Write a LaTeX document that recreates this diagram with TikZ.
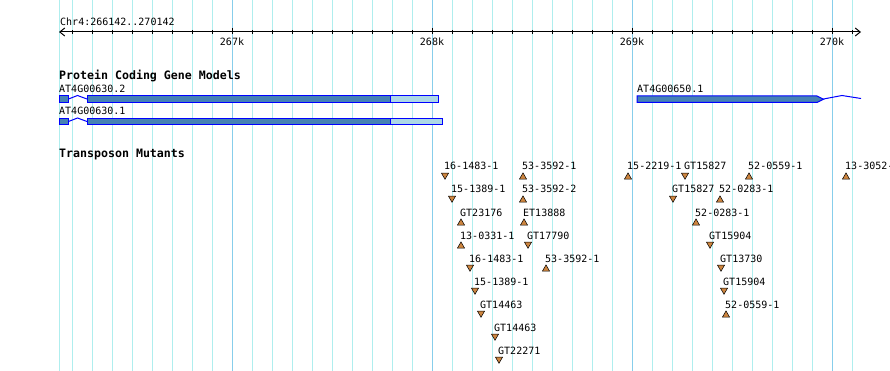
\documentclass[tikz,border=0pt]{standalone}
\usepackage{fontspec}
\setmonofont{DejaVu Sans Mono}
\usetikzlibrary{arrows.meta,shapes.geometric}

\definecolor{gridminor}{RGB}{175,238,238}
\definecolor{gridmajor}{RGB}{135,206,235}
\definecolor{cdsblue}{RGB}{70,130,180}
\definecolor{utrblue}{RGB}{173,216,230}
\definecolor{insfill}{RGB}{205,133,63}

% one insertion: name, x, row, tup/tdn, text
\newcommand{\mutant}[5]{%
  \node[ins,#4] (#1) at (#2+1,#3+11) {};
  \node[lbl] (#1l) at (#2,#3+4) {#5};
}

\begin{document}
\begin{tikzpicture}[x=1pt,y=-1pt,
    lbl/.style = {font=\ttfamily\fontsize{10}{10}\selectfont, inner sep=0pt, anchor=base west},
    head/.style = {font=\ttfamily\bfseries\fontsize{11.6}{12}\selectfont, inner sep=0pt, anchor=base west},
    ins/.style = {regular polygon, regular polygon sides=3, minimum size=8.2pt, inner sep=0pt,
                  fill=insfill, draw=black, line width=0.5pt},
    tup/.style = {},
    tdn/.style = {shape border rotate=180, yshift=1.8pt},
    exon/.style = {draw=blue, fill=cdsblue, line width=1pt},
    utr/.style = {draw=blue, fill=utrblue, line width=1pt},
    intron/.style = {draw=blue, line width=1pt}]
  \useasboundingbox (0,0) rectangle (890,371);
  \clip (0,0) rectangle (890,371);

  % grid
  \draw[gridminor, line width=1pt] (59.5,0) -- (59.5,371);
  \foreach \x in {72,92,...,852}
    \draw[gridminor, line width=1pt] (\x,0) -- (\x,371);
  \foreach \x in {232,432,632,832}
    \draw[gridmajor, line width=1pt] (\x,0) -- (\x,371);

  % ruler
  \node[lbl] (range) at (60,25.3) {Chr4:266142..270142};
  \coordinate (axL) at (59,32);
  \coordinate (axR) at (861,32);
  \draw[line width=1pt, {Straight Barb[length=5pt,width=8pt]}-{Straight Barb[length=5pt,width=8pt]}] (axL) -- (axR);
  \foreach \x in {72,92,...,852}
    \draw[line width=1pt] (\x,30) -- (\x,34.5);
  \foreach \x/\k in {232/267k,432/268k,632/269k,832/270k} {
    \draw[line width=1pt] (\x,28) -- (\x,34.5);
    \node[lbl, anchor=base] (k\k) at (\x,46) {\k};
  }

  % gene models
  \node[head] (genes) at (59,80) {Protein Coding Gene Models};
  \node[lbl] (g2) at (59,92.3) {AT4G00630.2};
  \draw[exon] (59,96) rectangle (68.5,102.5);
  \draw[intron] (68.5,99) -- (77.5,95.5) -- (87,99);
  \draw[exon] (87,96) rectangle (390,102.5);
  \draw[utr] (390,96) rectangle (438,102.5);

  \node[lbl] (g1) at (59,115) {AT4G00630.1};
  \draw[exon] (59,118.5) rectangle (68.5,125);
  \draw[intron] (68.5,121.5) -- (77.5,118) -- (87,121.5);
  \draw[exon] (87,118.5) rectangle (390,125);
  \draw[utr] (390,118.5) rectangle (442,125);

  \node[lbl] (g3) at (637,92.3) {AT4G00650.1};
  \draw[exon] (637,96) -- (817,96) -- (823.5,99.2) -- (817,102.5) -- (637,102.5) -- cycle;
  \draw[intron] (823.5,99) -- (842,95.5) -- (861,98.5);

  % transposon mutants
  \node[head] (mutants) at (59,158) {Transposon Mutants};
  \mutant{m1}{444}{166}{tdn}{16-1483-1}
  \mutant{m2}{522}{166}{tup}{53-3592-1}
  \mutant{m3}{451}{189}{tdn}{15-1389-1}
  \mutant{m4}{522}{189}{tup}{53-3592-2}
  \mutant{m5}{460}{212}{tup}{GT23176}
  \mutant{m6}{523}{212}{tup}{ET13888}
  \mutant{m7}{460}{235}{tup}{13-0331-1}
  \mutant{m8}{527}{235}{tdn}{GT17790}
  \mutant{m9}{469}{258}{tdn}{16-1483-1}
  \mutant{m10}{545}{258}{tup}{53-3592-1}
  \mutant{m11}{474}{281}{tdn}{15-1389-1}
  \mutant{m12}{480}{304}{tdn}{GT14463}
  \mutant{m13}{494}{327}{tdn}{GT14463}
  \mutant{m14}{498}{350}{tdn}{GT22271}
  \mutant{m15}{627}{166}{tup}{15-2219-1}
  \mutant{m16}{684}{166}{tdn}{GT15827}
  \mutant{m17}{748}{166}{tup}{52-0559-1}
  \mutant{m18}{845}{166}{tup}{13-3052-}
  \mutant{m19}{672}{189}{tdn}{GT15827}
  \mutant{m20}{719}{189}{tup}{52-0283-1}
  \mutant{m21}{695}{212}{tup}{52-0283-1}
  \mutant{m22}{709}{235}{tdn}{GT15904}
  \mutant{m23}{720}{258}{tdn}{GT13730}
  \mutant{m24}{723}{281}{tdn}{GT15904}
  \mutant{m25}{725}{304}{tup}{52-0559-1}
\end{tikzpicture}
\end{document}
